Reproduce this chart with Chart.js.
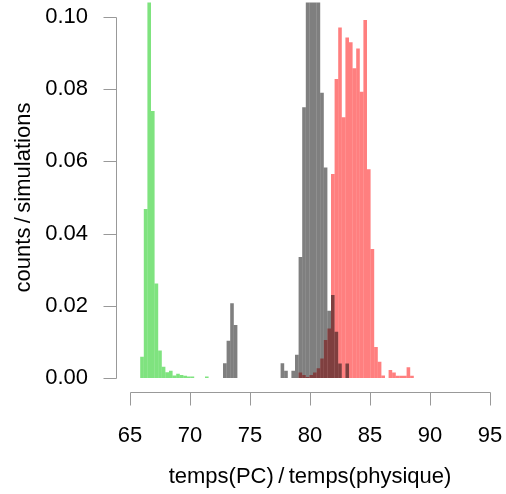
<!DOCTYPE html>
<html>
<head>
<meta charset="utf-8">
<script src="https://cdn.jsdelivr.net/npm/chart.js@4"></script>
<style>
  html, body { margin: 0; padding: 0; background: #fff; }
  canvas { display: block; }
</style>
</head>
<body>
<canvas id="hist" width="506" height="494"></canvas>
<script>
// bin centres (width 0.3) and normalised counts per series
const greenBins = [66.0, 66.3, 66.6, 66.9, 67.2, 67.5, 67.8, 68.1, 68.4, 68.7, 69.0, 69.3, 69.6, 69.9, 70.2, 71.4];
const greenVals = [0.0059, 0.0468, 0.13, 0.074, 0.0262, 0.0076, 0.0031, 0.0016, 0.0020, 0.0007, 0.0012, 0.0008, 0.0006, 0.0004, 0.0004, 0.0004];

const grayBins = [72.9, 73.2, 73.5, 73.8, 77.7, 78.0, 78.6, 78.9, 79.2, 79.5, 79.8, 80.1, 80.4, 80.7, 81.0, 81.3, 81.6, 81.9, 82.2, 82.5, 83.1];
const grayVals = [0.0041, 0.0103, 0.0207, 0.0147, 0.0041, 0.0020, 0.0020, 0.0064, 0.0335, 0.075, 0.11, 0.12, 0.12, 0.11, 0.079, 0.0583, 0.0186, 0.023, 0.0128, 0.0040, 0.0040];

const redBins = [79.2, 79.5, 79.8, 80.1, 80.4, 80.7, 81.0, 81.3, 81.6, 81.9, 82.2, 82.5, 82.8, 83.1, 83.4, 83.7, 84.0, 84.3, 84.6, 84.9, 85.2, 85.5, 85.8, 86.1, 86.7, 87.0, 87.3, 87.6, 87.9, 88.2, 88.5];
const redVals = [0.0015, 0.0008, 0.0003, 0.0008, 0.0015, 0.0027, 0.0054, 0.0105, 0.0137, 0.0565, 0.0828, 0.0971, 0.0722, 0.0943, 0.093, 0.0858, 0.0913, 0.0793, 0.0992, 0.0578, 0.0357, 0.0086, 0.0045, 0.0007, 0.0022, 0.0015, 0.0006, 0.0006, 0.0006, 0.0030, 0.0006];

const xTicks = [65, 70, 75, 80, 85, 90, 95];
const yTicks = [0, 0.02, 0.04, 0.06, 0.08, 0.10];

const xTitle = 'temps(PC)\u2009/\u2009temps(physique)';
const yTitle = 'counts\u2009/\u2009simulations';

const FONT = '22px "Liberation Sans", Arial, sans-serif';
const AXIS_COL = '#999999';
const TICK_LEN = 13;

const toPoints = (xs, ys) => xs.map((x, i) => ({ x, y: ys[i] }));

// R-style axes: lines only span the tick range, labels drawn beside them
const rAxes = {
  id: 'rAxes',
  afterDraw(chart) {
    const { ctx, chartArea, scales: { x, y } } = chart;
    const crisp = v => Math.round(v) + 0.5;
    ctx.save();
    ctx.strokeStyle = AXIS_COL;
    ctx.lineWidth = 1;

    // x axis
    const yb = crisp(chartArea.bottom);
    const x0 = crisp(x.getPixelForValue(xTicks[0]));
    const x1 = crisp(x.getPixelForValue(xTicks[xTicks.length - 1]));
    ctx.beginPath();
    ctx.moveTo(x0, yb); ctx.lineTo(x1, yb);
    xTicks.forEach(t => {
      const px = crisp(x.getPixelForValue(t));
      ctx.moveTo(px, yb); ctx.lineTo(px, yb + TICK_LEN);
    });
    // y axis
    const xl = crisp(chartArea.left);
    const y0 = crisp(y.getPixelForValue(yTicks[0]));
    const y1 = crisp(y.getPixelForValue(yTicks[yTicks.length - 1]));
    ctx.moveTo(xl, y0); ctx.lineTo(xl, y1);
    yTicks.forEach(t => {
      const py = crisp(y.getPixelForValue(t));
      ctx.moveTo(xl, py); ctx.lineTo(xl - TICK_LEN, py);
    });
    ctx.stroke();

    ctx.fillStyle = '#000';
    ctx.font = FONT;
    ctx.textBaseline = 'middle';
    ctx.textAlign = 'center';
    xTicks.forEach(t => ctx.fillText(String(t), x.getPixelForValue(t), 436));
    ctx.textAlign = 'right';
    yTicks.forEach(t => ctx.fillText(t.toFixed(2), 88, y.getPixelForValue(t)));

    // titles
    ctx.textAlign = 'center';
    ctx.fillText(xTitle, (chartArea.left + chartArea.right) / 2, 477);
    ctx.translate(24, (chartArea.top + chartArea.bottom) / 2);
    ctx.rotate(-Math.PI / 2);
    ctx.fillText(yTitle, 0, 0);
    ctx.restore();
  }
};

const barStyle = {
  grouped: false,
  barPercentage: 1,
  categoryPercentage: 1,
  borderWidth: 0,
  inflateAmount: 0
};

new Chart(document.getElementById('hist'), {
  type: 'bar',
  data: {
    datasets: [
      { label: 'green', data: toPoints(greenBins, greenVals), backgroundColor: 'rgba(0, 200, 0, 0.5)', ...barStyle },
      { label: 'gray', data: toPoints(grayBins, grayVals), backgroundColor: 'rgba(0, 0, 0, 0.5)', ...barStyle },
      { label: 'red', data: toPoints(redBins, redVals), backgroundColor: 'rgba(255, 0, 0, 0.5)', ...barStyle }
    ]
  },
  options: {
    responsive: false,
    devicePixelRatio: 1,
    animation: false,
    layout: { padding: { left: 115.6, right: 1.6, top: 2.6, bottom: 101.6 } },
    scales: {
      x: { type: 'linear', min: 63.8, max: 96.2, offset: false, display: false },
      y: { type: 'linear', min: -0.004, max: 0.104, display: false }
    },
    plugins: { legend: { display: false }, tooltip: { enabled: false } }
  },
  plugins: [rAxes]
});
</script>
</body>
</html>
